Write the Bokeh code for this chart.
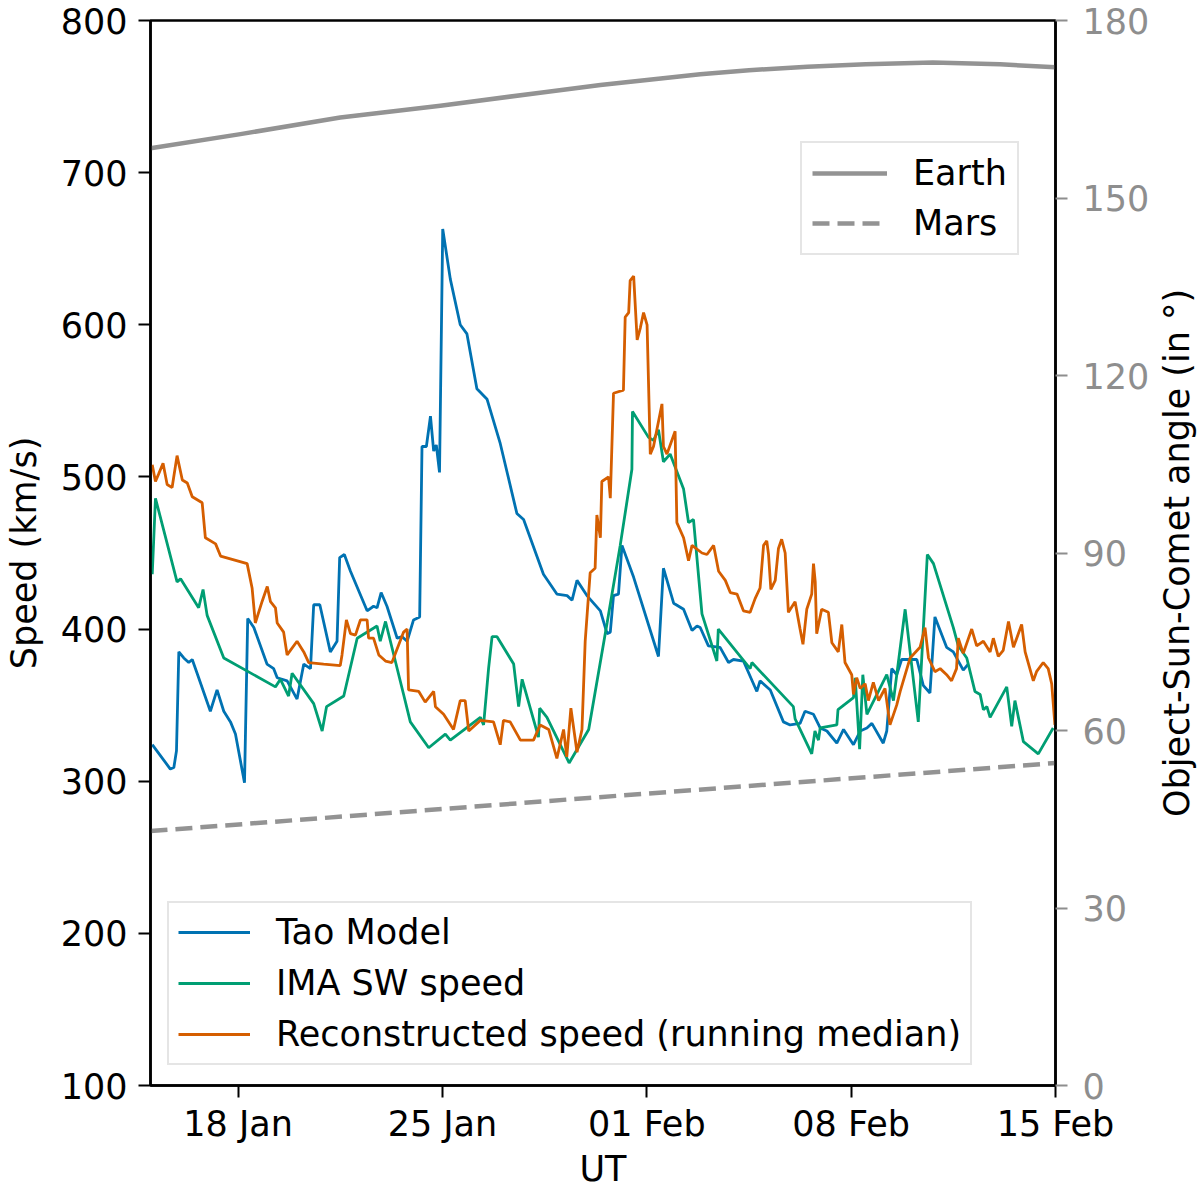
import pandas as pd
from bokeh.plotting import figure
from bokeh.layouts import row
from bokeh.models import (Range1d, LinearAxis, FixedTicker, DatetimeTickFormatter,
                          Legend, LegendItem)
from bokeh.embed import file_html
from bokeh.resources import INLINE

# days since 2015-01-15 00:00 UT
start = "2015-01-15"
end = "2015-02-15"
tick_dates = ["2015-01-18", "2015-01-25", "2015-02-01", "2015-02-08", "2015-02-15"]

tao_days = [0.06, 0.68, 0.80, 0.89, 0.97, 1.14, 1.31, 1.43, 1.65, 2.05, 2.28, 2.51, 2.74, 2.91,
            3.22, 3.33, 3.54, 3.99, 4.22, 4.34, 4.68, 5.02, 5.25, 5.48, 5.59, 5.80, 6.16, 6.39,
            6.48, 6.64, 6.85, 7.42, 7.64, 7.76, 7.90, 8.10, 8.45, 8.62, 8.79, 9.01, 9.22, 9.30,
            9.45, 9.59, 9.70, 9.79, 9.90, 10.01, 10.27, 10.61, 10.84, 11.18, 11.53, 11.98, 12.55,
            12.78, 13.46, 13.92, 14.27, 14.44, 14.61, 14.95, 15.41, 15.64, 15.75, 15.86, 16.03,
            16.15, 16.55, 17.40, 17.57, 17.92, 18.26, 18.55, 18.72, 18.83, 19.11, 19.51, 19.80,
            19.97, 20.31, 20.77, 20.88, 21.23, 21.68, 21.91, 22.25, 22.42, 22.71, 22.94, 23.17,
            23.51, 23.74, 24.08, 24.31, 24.54, 24.71, 25.10, 25.22, 25.39, 25.56, 25.73, 26.25,
            26.47, 26.70, 26.87, 27.27, 27.50, 27.84, 28.01]
tao_speed = [324, 308, 309, 320, 385, 381, 378, 380, 368, 346, 360, 346, 339, 331,
             299, 407, 401, 377, 374, 368, 366, 354, 377, 374, 416, 416, 385, 392,
             447, 449, 438, 412, 415, 414, 424, 415, 394, 395, 392, 406, 408, 520,
             520, 540, 517, 521, 503, 663, 630, 600, 594, 558, 551, 522, 476,
             472, 436, 423, 422, 419, 432, 422, 412, 397, 398, 422, 423,
             455, 434, 382, 440, 417, 413, 399, 402, 401, 389, 388, 378,
             380, 379, 359, 366, 360, 339, 337, 338, 346, 344, 335, 333,
             325, 334, 324, 333, 335, 338, 325, 333, 374, 370, 380, 380,
             363, 358, 408, 388, 385, 373, 377]

ima_days = [0.06, 0.17, 0.91, 1.03, 1.65, 1.80, 1.94, 2.51, 4.28, 4.45, 4.73, 4.85, 5.59, 5.88,
            6.03, 6.62, 7.08, 7.76, 7.87, 8.05, 8.67, 8.90, 9.53, 10.10, 10.27, 11.30, 11.41,
            11.58, 11.70, 11.87, 12.44, 12.61, 12.73, 13.29, 13.33, 13.58, 14.34, 15.01, 15.64,
            16.09, 16.49, 16.51, 17.06, 17.23, 17.40, 17.57, 17.80, 18.26, 18.43, 18.60, 18.89,
            19.40, 19.45, 20.54, 20.60, 22.02, 22.08, 22.65, 22.76, 22.88, 22.94, 23.51, 23.55,
            24.08, 24.14, 24.29, 24.40, 24.54, 25.22, 25.45, 25.85, 26.30, 26.61, 26.82, 27.50,
            27.67, 27.96, 28.24, 28.42, 28.53, 28.65, 28.76, 29.33, 29.50, 29.61, 29.90, 30.41,
            30.92]
ima_speed = [436, 486, 431, 433, 414, 426, 409, 381, 362, 367, 356, 371, 351, 333,
             349, 356, 394, 402, 392, 405, 357, 339, 322, 331, 327, 342, 337,
             374, 395, 395, 377, 349, 367, 329, 348, 342, 312, 334, 404,
             455, 505, 543, 526, 524, 531, 510, 515, 492, 470, 472, 410,
             379, 400, 374, 378, 349, 341, 318, 333, 327, 335, 337, 347,
             355, 368, 321, 370, 344, 370, 353, 413, 339, 449, 443, 401,
             389, 381, 359, 357, 347, 349, 342, 362, 336, 353, 326, 318,
             335]

rec_days = [0.06, 0.17, 0.28, 0.43, 0.57, 0.74, 0.91, 1.09, 1.26, 1.43, 1.77, 1.88, 2.23, 2.40,
            3.31, 3.48, 3.59, 3.82, 4.00, 4.11, 4.28, 4.34, 4.56, 4.68, 5.02, 5.25, 5.42, 5.93,
            6.50, 6.56, 6.71, 6.85, 7.02, 7.19, 7.42, 7.47, 7.64, 7.82, 8.05, 8.27, 8.67, 8.79,
            8.84, 9.19, 9.41, 9.70, 9.76, 10.04, 10.38, 10.61, 10.78, 10.90, 11.30, 11.75, 11.98,
            12.09, 12.32, 12.67, 13.12, 13.35, 13.64, 13.92, 14.15, 14.26, 14.40, 14.61, 14.78,
            14.89, 15.06, 15.23, 15.29, 15.41, 15.46, 15.69, 15.75, 15.86, 16.20, 16.26, 16.38,
            16.43, 16.55, 16.67, 16.78, 16.89, 17.01, 17.12, 17.23, 17.52, 17.57, 17.69, 17.97,
            18.03, 18.26, 18.43, 18.55, 18.89, 19.06, 19.29, 19.46, 19.69, 19.86, 20.09, 20.31,
            20.54, 20.71, 20.88, 21.00, 21.11, 21.17, 21.25, 21.40, 21.51, 21.62, 21.74, 21.85,
            22.08, 22.25, 22.35, 22.48, 22.65, 22.71, 22.77, 22.82, 22.99, 23.22, 23.34, 23.56,
            23.68, 23.79, 24.02, 24.08, 24.19, 24.31, 24.48, 24.59, 24.76, 24.94, 25.05, 25.16,
            25.33, 25.56, 25.68, 25.85, 26.02, 26.36, 26.53, 26.65, 26.87, 27.05, 27.27, 27.44,
            27.61, 27.67, 27.84, 28.13, 28.30, 28.53, 28.76, 28.87, 29.04, 29.21, 29.39, 29.56,
            29.84, 29.96, 30.24, 30.35, 30.58, 30.75, 30.87, 30.98]
rec_speed = [508, 497, 502, 509, 495, 493, 514, 498, 496, 487, 483, 460, 456, 448,
             443, 427, 404, 418, 428, 418, 414, 404, 398, 383, 392, 385, 378, 377,
             376, 383, 406, 397, 396, 406, 406, 394, 394, 383, 379, 378, 398, 400,
             360, 359, 352, 359, 349, 344, 334, 353, 353, 333, 340, 339, 324,
             340, 339, 327, 327, 337, 334, 315, 334, 316, 348, 319, 334,
             392, 437, 440, 475, 460, 497, 500, 486, 555, 557, 605, 608,
             629, 632, 590, 598, 608, 600, 515, 520, 548, 520, 515, 530,
             470, 460, 445, 455, 450, 449, 455, 438, 432, 424, 423, 412,
             411, 420, 427, 455, 458, 449, 426, 432, 453, 459, 450, 411,
             418, 400, 390, 413, 423, 443, 431, 397, 413, 411, 391, 385,
             403, 378, 370, 357, 368, 361, 364, 353, 365, 353, 357, 361,
             337, 350, 359, 370, 381, 388, 401, 381, 372, 374, 370, 366,
             374, 394, 384, 400, 389, 392, 385, 394, 382, 386, 405, 388,
             403, 385, 366, 372, 378, 374, 364, 337]

# Object-Sun-Comet angle (deg)
earth_days = [0.0, 3.08, 6.50, 9.93, 13.35, 15.41, 18.83, 20.5, 22.5, 24.5, 26.8, 29.1, 31.0]
earth_angle = [158.4, 160.8, 163.6, 165.6, 167.8, 169.1, 170.9, 171.6, 172.2, 172.6, 172.9,
               172.6, 172.1]
mars_days = [0, 15, 31]
mars_angle = [43.0, 48.6, 54.5]

FONT = "DejaVu Sans"
FS = "35px"
GREY = "#939393"
TICK_GREY = "#8e8e8e"
TOP, BOTTOM = 20, 105


def to_time(days):
    return pd.Timestamp(start) + pd.to_timedelta(days, unit="D")


p = figure(frame_width=905, frame_height=1065, x_axis_type="datetime",
           x_range=Range1d(pd.Timestamp(start), pd.Timestamp(end)),
           y_range=Range1d(100, 800),
           output_backend="svg", toolbar_location=None,
           min_border_left=142, min_border_right=94, min_border_top=TOP,
           min_border_bottom=BOTTOM)
p.extra_y_ranges = {"angle": Range1d(0, 180)}
p.grid.visible = False
p.outline_line_color = "black"
p.outline_line_width = 2.5
p.background_fill_color = "white"

tao = p.line(x=to_time(tao_days), y=tao_speed, line_color="#0072B2", line_width=2.8)
ima = p.line(x=to_time(ima_days), y=ima_speed, line_color="#009E73", line_width=2.8)
rec = p.line(x=to_time(rec_days), y=rec_speed, line_color="#D55E00", line_width=2.8)

earth = p.line(x=to_time(earth_days), y=earth_angle, y_range_name="angle",
               line_color=GREY, line_width=4.5, line_join="round")
mars = p.line(x=to_time(mars_days), y=mars_angle, y_range_name="angle",
              line_color=GREY, line_width=4.5, line_dash="17 8")

# axes
tick_ms = [pd.Timestamp(d).value // 10**6 for d in tick_dates]
xax = p.xaxis[0]
xax.ticker = FixedTicker(ticks=tick_ms)
xax.formatter = DatetimeTickFormatter(days="%d %b", months="%d %b", hours="%d %b",
                                      years="%d %b")
xax.axis_label = "UT"
xax.major_label_standoff = 6
xax.axis_label_standoff = 2

yax = p.yaxis[0]
yax.ticker = FixedTicker(ticks=[100, 200, 300, 400, 500, 600, 700, 800])
yax.axis_label = "Speed (km/s)"
yax.major_label_standoff = 11
yax.axis_label_standoff = 14

rax = LinearAxis(y_range_name="angle",
                 ticker=FixedTicker(ticks=[0, 30, 60, 90, 120, 150, 180]))
rax.major_label_text_color = TICK_GREY
rax.major_tick_line_color = TICK_GREY
rax.major_label_standoff = 15
p.add_layout(rax, "right")

for ax in [xax, yax, rax]:
    ax.axis_line_color = "black"
    ax.axis_line_width = 2.5
    ax.major_tick_out = 12
    ax.major_tick_in = 0
    ax.major_tick_line_width = 2
    ax.minor_tick_line_color = None
    ax.major_label_text_font = FONT
    ax.major_label_text_font_size = FS
    ax.axis_label_text_font = FONT
    ax.axis_label_text_font_size = FS
    ax.axis_label_text_font_style = "normal"
    ax.axis_label_text_color = "black"
for ax in [xax, yax]:
    ax.major_label_text_color = "black"
    ax.major_tick_line_color = "black"

# legends
planet_legend = Legend(items=[LegendItem(label="Earth", renderers=[earth]),
                              LegendItem(label="Mars", renderers=[mars])],
                       location=(650, 830))
speed_legend = Legend(items=[LegendItem(label="Tao Model", renderers=[tao]),
                             LegendItem(label="IMA SW speed", renderers=[ima]),
                             LegendItem(label="Reconstructed speed (running median)", renderers=[rec])],
                      location=(17, 20))
for lg in [planet_legend, speed_legend]:
    lg.label_text_font = FONT
    lg.label_text_font_size = FS
    lg.label_text_color = "black"
    lg.border_line_color = "#cccccc"
    lg.border_line_width = 2.5
    lg.background_fill_alpha = 0.85
    lg.margin = 0
    lg.glyph_height = 34
    lg.label_height = 34
    lg.label_standoff = 26
planet_legend.glyph_width = 75
planet_legend.padding = 10
planet_legend.spacing = 10
speed_legend.glyph_width = 72
speed_legend.padding = 9
speed_legend.spacing = 11
p.add_layout(planet_legend)
p.add_layout(speed_legend)

# right-hand axis title, reading bottom to top as in matplotlib:
# a narrow companion figure whose left axis carries only the label
lab = figure(frame_width=6, frame_height=1065, y_range=Range1d(0, 180),
             x_range=Range1d(0, 1),
             output_backend="svg", toolbar_location=None,
             min_border_left=44, min_border_right=0, min_border_top=TOP,
             min_border_bottom=BOTTOM)
lab.xaxis.visible = False
lab.grid.visible = False
lab.outline_line_color = None
lab.background_fill_color = None
lab.border_fill_color = None
lab.yaxis.ticker = FixedTicker(ticks=[])
lab.yaxis.axis_line_color = None
lab.yaxis.major_tick_line_color = None
lab.yaxis.minor_tick_line_color = None
lab.yaxis.major_tick_out = 0
lab.yaxis.major_tick_in = 0
lab.yaxis.major_label_standoff = 0
lab.yaxis.axis_label = "Object-Sun-Comet angle (in °)"
lab.yaxis.axis_label_standoff = 0
lab.yaxis.axis_label_text_font = FONT
lab.yaxis.axis_label_text_font_size = FS
lab.yaxis.axis_label_text_font_style = "normal"
lab.yaxis.axis_label_text_color = "black"

layout = row(p, lab)
open("out.html", "w").write(file_html(layout, INLINE))
